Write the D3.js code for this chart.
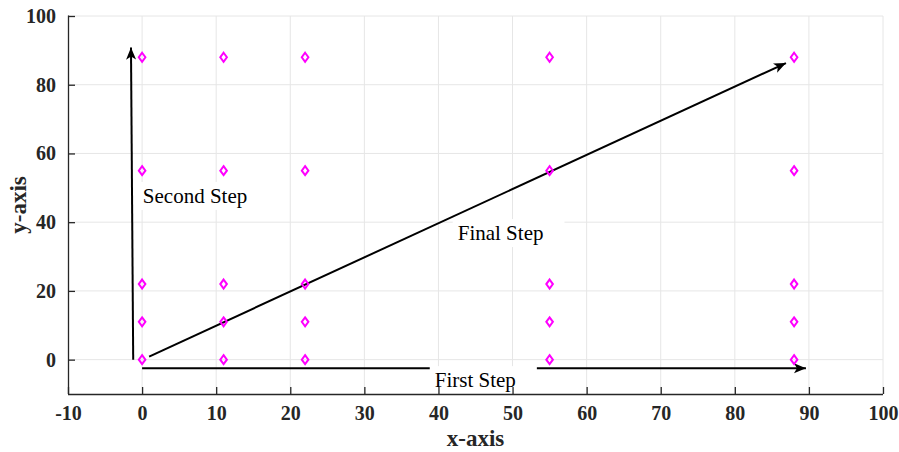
<!DOCTYPE html>
<html><head><meta charset="utf-8">
<script src="https://cdn.jsdelivr.net/npm/d3@7"></script>
<style>body{margin:0;background:#fff}</style>
</head><body>
<svg id="c" width="899" height="452"></svg>
<script>
const xTicks = [-10,0,10,20,30,40,50,60,70,80,90,100];
const yTicks = [0,20,40,60,80,100];
const pointX = [0,11,22,55,88];
const pointY = [0,11,22,55,88];
const arrows = [
  {name:"First Step",  x1:0,    y1:-2.5, x2:89.6, y2:-2.5},
  {name:"Second Step", x1:-1.2, y1:0,    x2:-1.5, y2:90.8},
  {name:"Final Step",  x1:0.95, y1:0.9,  x2:86.9, y2:86.3}
];
const labels = [
  {text:"First Step",  x:39.5, y:-8.0},
  {text:"Second Step", x:0.1,  y:45.6},
  {text:"Final Step",  x:42.6, y:34.8}
];

const svg = d3.select("#c");
const L=68,R=883,T=16,B=394;
const x = d3.scaleLinear().domain([-10,100]).range([L,R]);
const y = d3.scaleLinear().domain([-10,100]).range([B,T]);
const font = "'Liberation Serif','Times New Roman',serif";

// grid
const g = svg.append("g");
g.selectAll(".gx").data(xTicks.filter(d=>d>-10)).enter().append("line")
  .attr("x1",d=>x(d)).attr("x2",d=>x(d)).attr("y1",B).attr("y2",T)
  .attr("stroke","#e6e6e6").attr("stroke-width",1);
g.selectAll(".gy").data(yTicks).enter().append("line")
  .attr("x1",L).attr("x2",R).attr("y1",d=>y(d)).attr("y2",d=>y(d))
  .attr("stroke","#e6e6e6").attr("stroke-width",1);

// arrows
const defs = svg.append("defs");
defs.append("marker").attr("id","ah").attr("markerUnits","userSpaceOnUse")
  .attr("markerWidth",14).attr("markerHeight",12).attr("refX",12).attr("refY",5)
  .attr("orient","auto").attr("viewBox","0 0 14 10")
  .append("path").attr("d","M0,0 L12,5 L0,10 L3,5 Z").attr("fill","#000");
svg.selectAll(".arr").data(arrows).enter().append("line")
  .attr("x1",d=>x(d.x1)).attr("y1",d=>y(d.y1)).attr("x2",d=>x(d.x2)).attr("y2",d=>y(d.y2))
  .attr("stroke","#000").attr("stroke-width",2).attr("marker-end","url(#ah)");

// points
const pts = [];
pointX.forEach(px=>pointY.forEach(py=>pts.push([px,py])));
svg.selectAll(".pt").data(pts).enter().append("path")
  .attr("transform",d=>`translate(${x(d[0])},${y(d[1])})`)
  .attr("d","M0,-4.5 L3.3,0 L0,4.5 L-3.3,0 Z")
  .attr("fill","none").attr("stroke","#ff00ff").attr("stroke-width",2);

// labels with white background
labels.forEach(l=>{
  const gl = svg.append("g");
  const r = gl.append("rect").attr("fill","#fff");
  const t = gl.append("text").attr("x",x(l.x)).attr("y",y(l.y)).text(l.text)
    .style("font-family",font).style("font-size","21px").attr("fill","#000");
  const bb = t.node().getBBox();
  r.attr("x",bb.x-5).attr("y",bb.y-2).attr("width",bb.width+26).attr("height",bb.height+4);
});

// axes (drawn on top)
const xAxis = d3.axisBottom(x).tickValues(xTicks).tickFormat(d=>String(d)).tickSizeInner(-7).tickSizeOuter(0).tickPadding(12);
const yAxis = d3.axisLeft(y).tickValues(yTicks).tickFormat(d=>String(d)).tickSizeInner(-7).tickSizeOuter(0).tickPadding(12);
const gx = svg.append("g").attr("transform",`translate(0,${B})`).call(xAxis);
const gy = svg.append("g").attr("transform",`translate(${L},0)`).call(yAxis);
gy.select(".domain").attr("d",`M0.5,${B}V${T-0.5}`);
gx.select(".domain").attr("d",`M${L},0.5H${R}`);
[gx,gy].forEach(a=>{
  a.select(".domain").attr("stroke","#262626").attr("stroke-width",1.3);
  a.selectAll(".tick line").attr("stroke","#262626").attr("stroke-width",1.3);
  a.selectAll(".tick text").attr("fill","#262626").style("font-family",font)
    .style("font-size","20px").style("font-weight","bold");
});

// axis titles
svg.append("text").attr("x",(L+R)/2).attr("y",446).attr("text-anchor","middle")
  .style("font-family",font).style("font-size","23px").style("font-weight","bold")
  .attr("fill","#262626").text("x-axis");
svg.append("text").attr("transform",`translate(26,${(T+B)/2}) rotate(-90)`).attr("text-anchor","middle")
  .style("font-family",font).style("font-size","23px").style("font-weight","bold")
  .attr("fill","#262626").text("y-axis");
</script>
</body></html>
